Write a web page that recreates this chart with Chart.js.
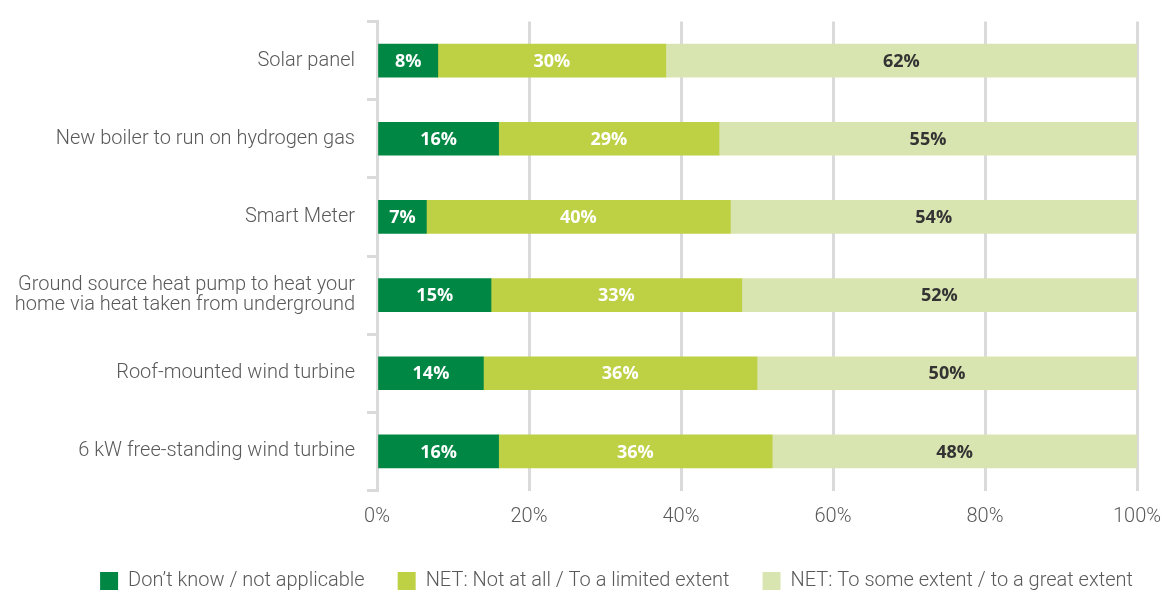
<!DOCTYPE html>
<html>
<head>
<meta charset="utf-8">
<script src="https://cdn.jsdelivr.net/npm/chart.js@4.4.1/dist/chart.umd.min.js"></script>
<style>
  html, body { margin: 0; padding: 0; background: #fff; overflow: hidden; }
  #wrap { width: 1166px; height: 593px; }
</style>
</head>
<body>
<div id="wrap"><canvas id="chart"></canvas></div>
<script>
// categories (top to bottom)
const categories = [
  'Solar panel',
  'New boiler to run on hydrogen gas',
  'Smart Meter',
  ['Ground source heat pump to heat your', 'home via heat taken from underground'],
  'Roof-mounted wind turbine',
  '6 kW free-standing wind turbine'
];

const seriesNames = [
  'Don\u2019t know / not applicable',
  'NET: Not at all / To a limited extent',
  'NET: To some extent / to a great extent'
];

// % values
const dontKnow = [8, 16, 6.5, 15, 14, 16];
const notAtAll = [30, 29, 40, 33, 36, 36];
const someExtent = [62, 55, 53.5, 52, 50, 48];

const xTicks = [0, 20, 40, 60, 80, 100];

const colors = ['#008744', '#bed044', '#d9e5b0'];
const labelColors = ['#ffffff', '#ffffff', '#333333'];

const gridColor = '#dadada';
const textColor = '#595959';

// draw the % value in the middle of each segment
const barLabels = {
  id: 'barLabels',
  afterDatasetsDraw(chart) {
    const ctx = chart.ctx;
    ctx.save();
    ctx.font = 'bold 18px "Open Sans", sans-serif';
    ctx.textAlign = 'center';
    ctx.textBaseline = 'middle';
    chart.data.datasets.forEach((ds, i) => {
      const meta = chart.getDatasetMeta(i);
      meta.data.forEach((bar, j) => {
        const p = bar.getProps(['x', 'y', 'base'], true);
        ctx.fillStyle = ds.labelColor;
        ctx.fillText(Math.round(ds.data[j]) + '%', (p.x + p.base) / 2, p.y + 1);
      });
    });
    ctx.restore();
  }
};

// legend sits a bit right of centre in the original
const legendShift = {
  id: 'legendShift',
  afterLayout(chart) {
    chart.legend.left += 48;
    chart.legend.right += 48;
  }
};

const datasets = [dontKnow, notAtAll, someExtent].map((data, i) => ({
  label: seriesNames[i],
  data: data,
  backgroundColor: colors[i],
  labelColor: labelColors[i],
  borderWidth: 0,
  barThickness: 33
}));

new Chart(document.getElementById('chart'), {
  type: 'bar',
  data: { labels: categories, datasets: datasets },
  plugins: [barLabels, legendShift],
  options: {
    indexAxis: 'y',
    responsive: true,
    maintainAspectRatio: false,
    animation: false,
    layout: { padding: { top: 21.5, right: 29, bottom: -8, left: 0 } },
    scales: {
      x: {
        stacked: true,
        min: 0,
        max: 100,
        afterBuildTicks: (scale) => { scale.ticks = xTicks.map(v => ({ value: v })); },
        afterFit: (scale) => {
          scale.height = 47.5;
          scale.paddingLeft = 0;
          scale.paddingRight = 0;
        },
        grid: { color: gridColor, lineWidth: 3, drawTicks: false },
        border: { display: false },
        ticks: {
          padding: 14,
          color: textColor,
          font: { family: 'Roboto', size: 20, weight: 300 },
          callback: (v) => v + '%'
        }
      },
      y: {
        stacked: true,
        afterFit: (scale) => {
          scale.width = 377;
          scale.paddingTop = 0;
          scale.paddingBottom = 0;
        },
        grid: { color: gridColor, lineWidth: 3, offset: true, drawOnChartArea: false, tickLength: 10 },
        border: { display: true, color: gridColor, width: 3 },
        ticks: {
          padding: 12,
          color: textColor,
          font: { family: 'Roboto', size: 20, weight: 300, lineHeight: 1.0 }
        }
      }
    },
    plugins: {
      tooltip: { enabled: false },
      legend: {
        position: 'bottom',
        labels: {
          boxWidth: 18,
          boxHeight: 18,
          padding: 33,
          color: textColor,
          font: { family: 'Roboto', size: 20, weight: 300 }
        }
      }
    }
  }
});
</script>
</body>
</html>
